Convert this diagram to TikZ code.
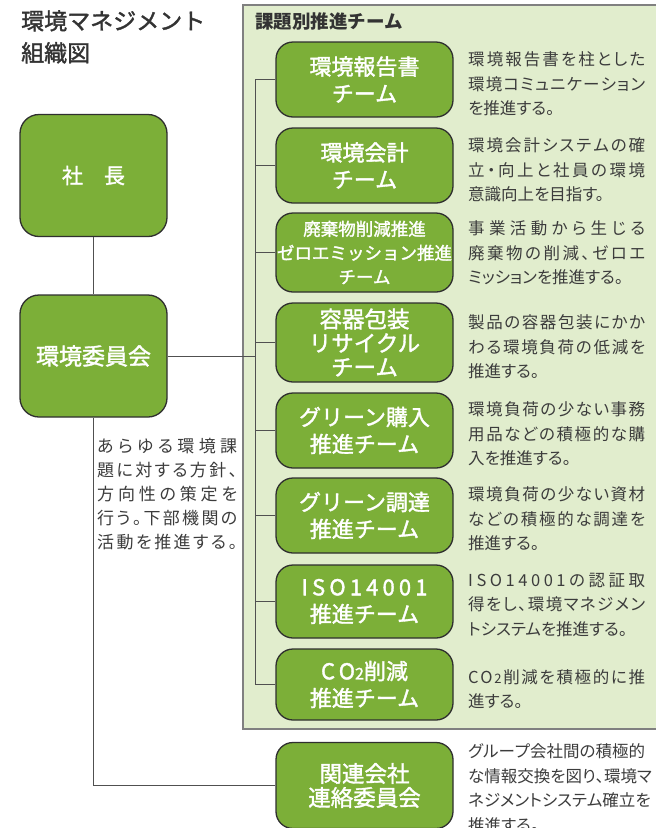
\documentclass[tikz,border=0pt]{standalone}
\usepackage{fontspec}
\setmainfont{Noto Sans CJK JP}
\newfontfamily\descfont{Noto Sans CJK JP}[RawFeature=+palt]
\newfontfamily\medfont{Noto Sans CJK JP}[FakeBold=1.6]
\definecolor{boxgreen}{HTML}{7CAF38}
\definecolor{panelgreen}{HTML}{E1EDCD}
\definecolor{boxline}{HTML}{2F2F2F}
\definecolor{conn}{HTML}{505050}
\definecolor{panelline}{HTML}{808080}
\definecolor{desctext}{HTML}{3C3C3C}
\definecolor{titletext}{HTML}{333333}
\def\sprd#1{#1\sprdnext}
\def\sprdnext#1{\ifx\relax#1\else\hfil#1\expandafter\sprdnext\fi}
\newcommand\jline[2]{\makebox[#1][s]{\sprd#2\relax}}
\newcommand\twosub{{\fontsize{13}{13}\selectfont 2}}
\newcommand\rjl[1]{\jline{177pt}{#1}}
\newcommand\ljl[1]{\jline{140pt}{#1}}
\begin{document}
\begin{tikzpicture}[x=1pt,y=-1pt,
  greenbox/.style={draw=boxline, line width=1.3pt, fill=boxgreen, text=white, align=center, inner sep=0pt},
  team/.style={greenbox, rounded corners=17pt, minimum width=177pt},
  leftbox/.style={greenbox, rounded corners=19pt, minimum width=147pt, minimum height=122pt},
  desc/.style={anchor=west, inner sep=0pt, align=left, text=desctext, font=\descfont\fontsize{16.5}{24.5}\selectfont},
  link/.style={draw=conn, line width=1pt},
  bigtxt/.style={font=\medfont\fontsize{22}{27}\selectfont},
]
\useasboundingbox (0,0) rectangle (656,828);
\begin{scope}
\clip (0,0) rectangle (656,828);
\fill[white] (0,0) rectangle (656,828);
% panel
\filldraw[fill=panelgreen, draw=panelline, line width=1.3pt] (243,5) rectangle (700,729);
\node[anchor=west, inner sep=0pt, font=\bfseries\fontsize{18.5}{22}\selectfont, text=titletext] (hdr) at (255,22) {課題別推進チーム};

% title
\node[anchor=north west, inner sep=0pt, align=left, text=titletext, font=\medfont\fontsize{23}{32}\selectfont] (title) at (21,10) {環境マネジメント\\組織図};

% left boxes
\node[leftbox, font=\medfont\fontsize{21}{25}\selectfont] (sha) at (93.5,175.5) {社　長};
\node[leftbox, font=\medfont\fontsize{23}{27}\selectfont] (iin) at (93.5,356) {環境委員会};

% team boxes
\node[team, bigtxt, minimum height=75pt] (t1) at (364.5,79.5) {環境報告書\\チーム};
\node[team, bigtxt, minimum height=75pt] (t2) at (364.5,165.5) {環境会計\\チーム};
\node[team, minimum height=79pt, font=\medfont\fontsize{17.5}{24}\selectfont] (t3) at (364.5,252.5) {廃棄物削減推進\\ゼロエミッション推進\\チーム};
\node[team, minimum height=79pt, font=\medfont\fontsize{22.5}{24}\selectfont] (t4) at (364.5,342.5) {容器包装\\リサイクル\\チーム};
\node[team, bigtxt, minimum height=75pt] (t5) at (364.5,430.5) {グリーン購入\\推進チーム};
\node[team, bigtxt, minimum height=75pt] (t6) at (364.5,515.5) {グリーン調達\\推進チーム};
\node[team, bigtxt, minimum height=73pt] (t7) at (364.5,601.5) {\jline{126pt}{ISO14001}\\推進チーム};
\node[team, bigtxt, minimum height=71pt] (t8) at (364.5,684.5) {C\,O{\fontsize{16}{16}\selectfont 2}削減\\推進チーム};
\node[team, minimum height=86pt, font=\medfont\fontsize{22.5}{24}\selectfont] (t9) at (364.5,785.5) {関連会社\\連絡委員会};

% connectors
\coordinate (trunk) at (255,0);
\draw[link] (t1.west -| trunk) -- (t8.west -| trunk);
\foreach \i in {1,...,8} { \draw[link] (t\i.west) -- (t\i.west -| trunk); }
\draw[link] (iin.east) -- (iin.east -| trunk);
\draw[link] (sha.south) -- (iin.north);
\draw[link] (iin.south) |- (t9.west);

% descriptions
\node[desc] (d1) at (468,84) {\rjl{環境報告書を柱とした}\\\rjl{環境コミュニケーション}\\を推進する。};
\node[desc] (d2) at (468,170) {\rjl{環境会計システムの確}\\\rjl{立・向上と社員の環境}\\意識向上を目指す。};
\node[desc] (d3) at (468,253) {\rjl{事業活動から生じる}\\\rjl{廃棄物の削減、ゼロエ}\\ミッションを推進する。};
\node[desc] (d4) at (468,347) {\rjl{製品の容器包装にかか}\\\rjl{わる環境負荷の低減を}\\推進する。};
\node[desc] (d5) at (468,434) {\rjl{環境負荷の少ない事務}\\\rjl{用品などの積極的な購}\\入を推進する。};
\node[desc] (d6) at (468,519) {\rjl{環境負荷の少ない資材}\\\rjl{などの積極的な調達を}\\推進する。};
\node[desc] (d7) at (468,605) {\rjl{ISO14001の認証取}\\\rjl{得をし、環境マネジメン}\\トシステムを推進する。};
\node[desc] (d8) at (468,689) {\rjl{CO\twosub 削減を積極的に推}\\進する。};
\node[desc] (d9) at (468,788) {\rjl{グループ会社間の積極的}\\\rjl{な情報交換を図り、環境マ}\\\rjl{ネジメントシステム確立を}\\推進する。};
\node[desc, font=\descfont\fontsize{17}{24}\selectfont] (d0) at (97,494) {\ljl{あらゆる環境課}\\\ljl{題に対する方針、}\\\ljl{方向性の策定を}\\\ljl{行う。下部機関の}\\\ljl{活動を推進する。}};
\end{scope}
\end{tikzpicture}
\end{document}
